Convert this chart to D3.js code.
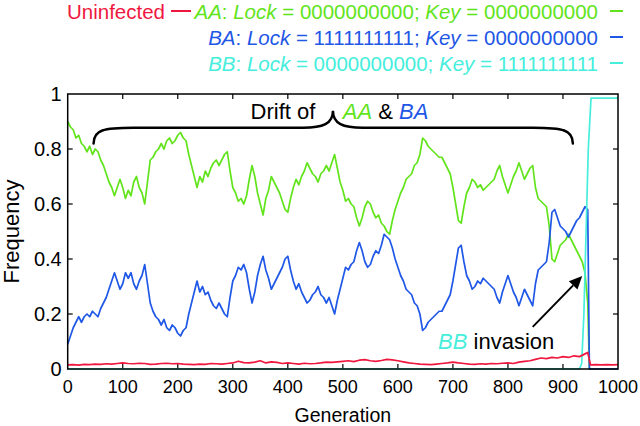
<!DOCTYPE html>
<html>
<head>
<meta charset="utf-8">
<script src="https://cdn.jsdelivr.net/npm/d3@7"></script>
<style>
  body { margin: 0; background: #fff; }
  svg { display: block; font-family: "Liberation Sans", Arial, Helvetica, sans-serif; }
</style>
</head>
<body>
<div id="chart"></div>
<script>
// generations for AA / BA (every 5 up to 945, then the collapse)
const genDrift = d3.range(0, 950, 5).concat([948, 955, 1000]);

const aaFreq = [
  0.90, 0.88, 0.87, 0.84, 0.85, 0.82, 0.81, 0.79, 0.81, 0.78,
  0.80, 0.79, 0.76, 0.74, 0.71, 0.68, 0.66, 0.63, 0.66, 0.69,
  0.66, 0.62, 0.65, 0.63, 0.68, 0.70, 0.66, 0.64, 0.60, 0.68,
  0.76, 0.77, 0.79, 0.80, 0.82, 0.80, 0.83, 0.84, 0.82, 0.83,
  0.85, 0.86, 0.84, 0.83, 0.78, 0.74, 0.70, 0.66, 0.70, 0.68,
  0.72, 0.70, 0.73, 0.75, 0.76, 0.74, 0.76, 0.78, 0.79, 0.72,
  0.66, 0.64, 0.61, 0.62, 0.60, 0.63, 0.69, 0.74, 0.70, 0.64,
  0.60, 0.56, 0.62, 0.65, 0.70, 0.68, 0.66, 0.64, 0.61, 0.58,
  0.57, 0.62, 0.66, 0.69, 0.67, 0.70, 0.72, 0.75, 0.73, 0.71,
  0.70, 0.68, 0.71, 0.72, 0.74, 0.72, 0.75, 0.78, 0.73, 0.68,
  0.65, 0.61, 0.62, 0.60, 0.59, 0.55, 0.52, 0.55, 0.59, 0.61,
  0.60, 0.57, 0.55, 0.56, 0.53, 0.52, 0.50, 0.49, 0.54, 0.58,
  0.61, 0.64, 0.66, 0.69, 0.70, 0.71, 0.74, 0.75, 0.78, 0.84,
  0.83, 0.81, 0.80, 0.79, 0.78, 0.77, 0.77, 0.75, 0.73, 0.71,
  0.66, 0.60, 0.54, 0.53, 0.59, 0.64, 0.66, 0.69, 0.68, 0.66,
  0.67, 0.65, 0.66, 0.67, 0.68, 0.69, 0.72, 0.74, 0.70, 0.67,
  0.64, 0.67, 0.70, 0.72, 0.75, 0.72, 0.69, 0.71, 0.73, 0.74,
  0.66, 0.62, 0.61, 0.60, 0.59, 0.52, 0.40, 0.39, 0.42, 0.45,
  0.46, 0.47, 0.49, 0.47, 0.45, 0.43, 0.41, 0.39, 0.35, 0.24,
  0, 0, 0
];

const baFreq = [
  0.09, 0.12, 0.15, 0.17, 0.19, 0.17, 0.19, 0.20, 0.19, 0.21,
  0.20, 0.19, 0.22, 0.24, 0.26, 0.29, 0.32, 0.35, 0.32, 0.29,
  0.31, 0.35, 0.33, 0.35, 0.31, 0.29, 0.32, 0.34, 0.38, 0.31,
  0.24, 0.21, 0.19, 0.18, 0.16, 0.18, 0.15, 0.14, 0.16, 0.15,
  0.13, 0.12, 0.14, 0.15, 0.20, 0.24, 0.28, 0.32, 0.28, 0.30,
  0.27, 0.28, 0.25, 0.23, 0.22, 0.24, 0.22, 0.20, 0.19, 0.26,
  0.32, 0.34, 0.37, 0.36, 0.38, 0.35, 0.29, 0.24, 0.28, 0.34,
  0.38, 0.41, 0.36, 0.33, 0.29, 0.31, 0.33, 0.35, 0.37, 0.40,
  0.41, 0.36, 0.32, 0.29, 0.31, 0.28, 0.26, 0.24, 0.25, 0.27,
  0.28, 0.30, 0.27, 0.26, 0.24, 0.26, 0.23, 0.20, 0.25, 0.29,
  0.33, 0.37, 0.36, 0.38, 0.39, 0.43, 0.46, 0.43, 0.39, 0.37,
  0.38, 0.41, 0.43, 0.42, 0.45, 0.49, 0.48, 0.47, 0.44, 0.40,
  0.37, 0.34, 0.32, 0.29, 0.28, 0.27, 0.24, 0.23, 0.20, 0.14,
  0.15, 0.17, 0.18, 0.19, 0.20, 0.21, 0.21, 0.23, 0.25, 0.27,
  0.32, 0.38, 0.44, 0.45, 0.39, 0.34, 0.32, 0.29, 0.30, 0.32,
  0.31, 0.33, 0.32, 0.31, 0.30, 0.29, 0.26, 0.24, 0.28, 0.31,
  0.34, 0.31, 0.28, 0.26, 0.23, 0.26, 0.29, 0.27, 0.25, 0.23,
  0.31, 0.36, 0.37, 0.38, 0.39, 0.46, 0.57, 0.58, 0.55, 0.52,
  0.51, 0.50, 0.48, 0.50, 0.52, 0.54, 0.55, 0.57, 0.59, 0.58,
  0, 0, 0
];

// BB invader
const genBB = [0, 930, 934, 938, 942, 946, 951, 1000];
const bbFreq = [0, 0, 0.02, 0.20, 0.50, 0.80, 0.985, 0.985];

// uninfected hosts
const genU = d3.range(0, 950, 10).concat([945, 950, 960, 970, 980, 990, 1000]);
const uFreq = [
  0.015, 0.016, 0.014, 0.017, 0.016, 0.018, 0.017, 0.019, 0.018, 0.020,
  0.022, 0.020, 0.019, 0.021, 0.020, 0.017, 0.018, 0.020, 0.021, 0.019,
  0.020, 0.018, 0.017, 0.016, 0.018, 0.017, 0.020, 0.019, 0.018, 0.020,
  0.022, 0.028, 0.023, 0.022, 0.025, 0.030, 0.022, 0.026, 0.024, 0.020,
  0.022, 0.020, 0.018, 0.021, 0.019, 0.020, 0.022, 0.025, 0.024, 0.026,
  0.028, 0.030, 0.027, 0.032, 0.034, 0.030, 0.028, 0.031, 0.035, 0.033,
  0.030, 0.026, 0.022, 0.020, 0.018, 0.017, 0.016, 0.018, 0.020, 0.022,
  0.025, 0.022, 0.020, 0.018, 0.017, 0.019, 0.018, 0.020, 0.019, 0.021,
  0.022, 0.020, 0.025, 0.028, 0.030, 0.035, 0.040, 0.038, 0.042, 0.040,
  0.045, 0.042, 0.048, 0.045, 0.055,
  0.060, 0.015, 0.016, 0.015, 0.016, 0.015, 0.016
];

const xTicks = d3.range(0, 1001, 100);
const yTicks = [0, 0.2, 0.4, 0.6, 0.8, 1];

const colors = { u: "#f0173f", aa: "#62e41c", ba: "#1f57e6", bb: "#46eedc" };

const width = 640, height = 426;
const margin = { top: 94, right: 22, bottom: 57, left: 67.7 };
const innerW = width - margin.left - margin.right;
const innerH = height - margin.top - margin.bottom;

const svg = d3.select("#chart").append("svg")
  .attr("width", width)
  .attr("height", height);

const x = d3.scaleLinear().domain([0, 1000]).range([margin.left, margin.left + innerW]);
const y = d3.scaleLinear().domain([0, 1]).range([margin.top + innerH, margin.top]);

// ticks pointing inwards, mirrored on all four sides
const tickLen = 5;
const axes = svg.append("g").attr("stroke", "#000").attr("stroke-width", 1.2);
xTicks.slice(1, -1).forEach(t => {
  axes.append("line").attr("x1", x(t)).attr("x2", x(t)).attr("y1", y(0)).attr("y2", y(0) - tickLen);
  axes.append("line").attr("x1", x(t)).attr("x2", x(t)).attr("y1", y(1)).attr("y2", y(1) + tickLen);
});
yTicks.slice(1, -1).forEach(t => {
  axes.append("line").attr("x1", x(0)).attr("x2", x(0) + tickLen).attr("y1", y(t)).attr("y2", y(t));
  axes.append("line").attr("x1", x(1000)).attr("x2", x(1000) - tickLen).attr("y1", y(t)).attr("y2", y(t));
});

// tick labels
svg.append("g").selectAll("text").data(xTicks).join("text")
  .attr("x", d => x(d)).attr("y", y(0) + 24)
  .attr("text-anchor", "middle").attr("font-size", 18)
  .text(d => d);
svg.append("g").selectAll("text").data(yTicks).join("text")
  .attr("x", x(0) - 6).attr("y", d => y(d) + 7)
  .attr("text-anchor", "end").attr("font-size", 20)
  .text(d => d3.format("~g")(d));

svg.append("text")
  .attr("x", x(500)).attr("y", 422)
  .attr("text-anchor", "middle").attr("font-size", 19.5)
  .text("Generation");
svg.append("text")
  .attr("transform", `translate(19,${y(0.5)}) rotate(-90)`)
  .attr("text-anchor", "middle").attr("font-size", 22)
  .text("Frequency");

// series
const line = d3.line().x(d => x(d[0])).y(d => y(d[1]));
const plot = svg.append("g").attr("fill", "none").attr("stroke-width", 1.7).attr("stroke-linejoin", "round");

plot.append("path").attr("d", line(d3.zip(genDrift, aaFreq))).attr("stroke", colors.aa);
plot.append("path").attr("d", line(d3.zip(genDrift, baFreq))).attr("stroke", colors.ba);
plot.append("path").attr("d", line(d3.zip(genBB, bbFreq))).attr("stroke", colors.bb);
plot.append("path").attr("d", line(d3.zip(genU, uFreq))).attr("stroke", colors.u);

// frame
svg.append("rect")
  .attr("x", x(0)).attr("y", y(1))
  .attr("width", x(1000) - x(0)).attr("height", y(0) - y(1))
  .attr("fill", "none").attr("stroke", "#000").attr("stroke-width", 1.5);

// legend (gnuplot-like key)
const legendRows = [
  { y: 18.5, name: "AA", lock: "0000000000", key: "0000000000", color: colors.aa },
  { y: 44.5, name: "BA", lock: "1111111111", key: "0000000000", color: colors.ba },
  { y: 70.5, name: "BB", lock: "0000000000", key: "1111111111", color: colors.bb }
];
const legend = svg.append("g").attr("font-size", 20.5);
legendRows.forEach(r => {
  const t = legend.append("text").attr("x", 598).attr("y", r.y)
    .attr("text-anchor", "end").attr("fill", r.color);
  t.append("tspan").attr("font-style", "italic").text(r.name);
  t.append("tspan").text(": ");
  t.append("tspan").attr("font-style", "italic").text("Lock");
  t.append("tspan").text(` = ${r.lock}; `);
  t.append("tspan").attr("font-style", "italic").text("Key");
  t.append("tspan").text(` = ${r.key}`);
  legend.append("line").attr("x1", 610).attr("x2", 623).attr("y1", r.y - 7.5).attr("y2", r.y - 7.5)
    .attr("stroke", r.color).attr("stroke-width", 2);
});
legend.append("text").attr("x", 67).attr("y", 18.5).attr("fill", colors.u).text("Uninfected");
legend.append("line").attr("x1", 171).attr("x2", 191).attr("y1", 11).attr("y2", 11)
  .attr("stroke", colors.u).attr("stroke-width", 2);

// brace over the drift period
const brace = { x0: 47, x1: 918, mid: 482, yEnd: 0.82, yBar: 0.877, yTip: 0.939 };
const bp = d3.path();
bp.moveTo(x(brace.x0), y(brace.yEnd));
bp.bezierCurveTo(x(brace.x0), y(brace.yBar) + 2, x(brace.x0) + 10, y(brace.yBar), x(brace.x0) + 40, y(brace.yBar));
bp.lineTo(x(brace.mid) - 30, y(brace.yBar));
bp.bezierCurveTo(x(brace.mid) - 10, y(brace.yBar), x(brace.mid), y(brace.yBar) - 4, x(brace.mid), y(brace.yTip));
bp.bezierCurveTo(x(brace.mid), y(brace.yBar) - 4, x(brace.mid) + 10, y(brace.yBar), x(brace.mid) + 30, y(brace.yBar));
bp.lineTo(x(brace.x1) - 40, y(brace.yBar));
bp.bezierCurveTo(x(brace.x1) - 10, y(brace.yBar), x(brace.x1), y(brace.yBar) + 2, x(brace.x1), y(brace.yEnd));
svg.append("path").attr("d", bp.toString())
  .attr("fill", "none").attr("stroke", "#000").attr("stroke-width", 2.5).attr("stroke-linecap", "round");

const ann = svg.append("g").attr("font-size", 22);
ann.append("text").attr("x", x(450)).attr("y", y(0.909)).attr("text-anchor", "end").text("Drift of");
const t2 = ann.append("text").attr("x", x(500)).attr("y", y(0.909));
t2.append("tspan").attr("font-style", "italic").attr("fill", colors.aa).text("AA");
t2.append("tspan").text(" & ");
t2.append("tspan").attr("font-style", "italic").attr("fill", colors.ba).text("BA");

const t3 = ann.append("text").attr("x", x(673)).attr("y", y(0.073));
t3.append("tspan").attr("font-style", "italic").attr("fill", colors.bb).text("BB");
t3.append("tspan").text(" invasion");

// arrow to the invasion point
const arrow = { from: [845, 0.153], to: [935, 0.338] };
const ax0 = x(arrow.from[0]), ay0 = y(arrow.from[1]);
const ax1 = x(arrow.to[0]), ay1 = y(arrow.to[1]);
const ang = Math.atan2(ay1 - ay0, ax1 - ax0);
const headL = 13, headW = 6;
const bx = ax1 - headL * Math.cos(ang), by = ay1 - headL * Math.sin(ang);
svg.append("line").attr("x1", ax0).attr("y1", ay0).attr("x2", bx).attr("y2", by)
  .attr("stroke", "#000").attr("stroke-width", 2);
svg.append("path")
  .attr("d", `M${ax1},${ay1}L${bx + headW * Math.sin(ang)},${by - headW * Math.cos(ang)}L${bx - headW * Math.sin(ang)},${by + headW * Math.cos(ang)}Z`)
  .attr("fill", "#000");
</script>
</body>
</html>
